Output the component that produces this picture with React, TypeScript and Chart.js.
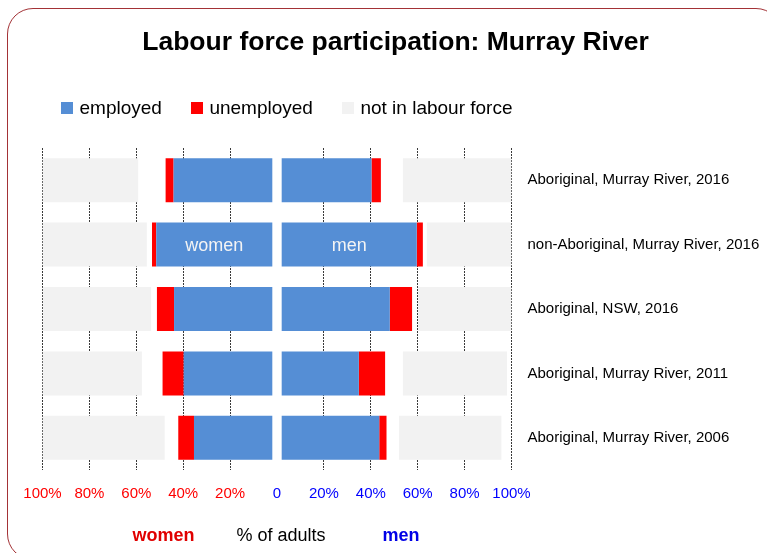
import React, { useEffect, useRef } from "react";
import { Chart, registerables } from "chart.js";

Chart.register(...registerables);

// ---------- data ----------
const categories = [
  "Aboriginal, Murray River, 2016",
  "non-Aboriginal, Murray River, 2016",
  "Aboriginal, NSW, 2016",
  "Aboriginal, Murray River, 2011",
  "Aboriginal, Murray River, 2006",
];

// small blank series that separates the women and men halves in the middle
const centreGap = [2, 2, 2, 2, 2];

const womenEmployed = [42.1, 49.5, 41.9, 37.8, 33.4];
const womenUnemployed = [3.4, 1.8, 7.3, 9.0, 6.7];
const womenNotStated = [11.7, 2.2, 2.5, 8.8, 5.8];
const womenNotInLabourForce = [40.8, 44.5, 46.2, 42.4, 52.1];

const menEmployed = [38.3, 57.6, 46.1, 32.9, 41.6];
const menUnemployed = [4.0, 2.6, 9.5, 11.2, 3.1];
const menNotStated = [9.4, 1.7, 2.6, 7.6, 5.3];
const menNotInLabourForce = [46.3, 36.1, 39.8, 44.4, 43.7];

const axisMin = -100;
const axisMax = 100;
const axisStep = 20;

const seriesNames = ["employed", "unemployed", "not in labour force"];
const innerLabels = { women: "women", men: "men" };
const innerLabelRow = 1;

const COLORS = {
  employed: "#558ed5",
  unemployed: "#ff0000",
  nilf: "#f2f2f2",
  gap: "rgba(0,0,0,0)",
};

const FONT = '"Liberation Sans", Arial, Helvetica, sans-serif';

export default function App() {
  const ref = useRef<HTMLCanvasElement | null>(null);

  useEffect(() => {
    if (!ref.current) return;
    Chart.defaults.font.family = FONT;

    const neg = (a: number[]) => a.map((v) => -v);
    const mk = (label: string, data: number[], color: string) => ({
      label,
      data,
      backgroundColor: color,
      borderWidth: 0,
      barPercentage: 0.683,
      categoryPercentage: 1,
      stack: "rows",
    });

    const datasets = [
      mk("women gap", neg(centreGap), COLORS.gap),
      mk("women employed", neg(womenEmployed), COLORS.employed),
      mk("women unemployed", neg(womenUnemployed), COLORS.unemployed),
      mk("women not stated", neg(womenNotStated), COLORS.gap),
      mk("women not in labour force", neg(womenNotInLabourForce), COLORS.nilf),
      mk("men gap", centreGap, COLORS.gap),
      mk("men employed", menEmployed, COLORS.employed),
      mk("men unemployed", menUnemployed, COLORS.unemployed),
      mk("men not stated", menNotStated, COLORS.gap),
      mk("men not in labour force", menNotInLabourForce, COLORS.nilf),
    ];

    const innerLabelPlugin = {
      id: "innerLabels",
      afterDatasetsDraw(chart: any) {
        const c = chart.ctx;
        const pairs: [number, string][] = [
          [1, innerLabels.women],
          [6, innerLabels.men],
        ];
        c.save();
        c.font = `18px ${FONT}`;
        c.fillStyle = "#f4f4f4";
        c.textAlign = "center";
        c.textBaseline = "middle";
        for (const [dsIndex, text] of pairs) {
          const el = chart.getDatasetMeta(dsIndex).data[innerLabelRow];
          if (!el) continue;
          const p = el.getProps(["x", "base", "y"], true);
          c.fillText(text, (p.x + p.base) / 2, p.y + 1);
        }
        c.restore();
      },
    };

    const chart = new Chart(ref.current, {
      type: "bar",
      data: { labels: categories, datasets: datasets as any },
      plugins: [innerLabelPlugin],
      options: {
        indexAxis: "y",
        animation: false,
        responsive: false,
        devicePixelRatio: 1,
        layout: { padding: { left: 42.5, right: 0, top: 148, bottom: 0 } },
        plugins: {
          legend: { display: false },
          title: { display: false },
          tooltip: { enabled: false },
        },
        scales: {
          x: {
            type: "linear",
            stacked: true,
            min: axisMin,
            max: axisMax,
            ticks: {
              stepSize: axisStep,
              padding: 15,
              font: { size: 15, family: FONT },
              color: (ctx: any) => (ctx.tick && ctx.tick.value < 0 ? "#ff0000" : "#0000ff"),
              callback: (v: any) => (Number(v) === 0 ? "0" : Math.abs(Number(v)) + "%"),
            },
            grid: {
              drawTicks: false,
              lineWidth: 1,
              color: (ctx: any) =>
                ctx.tick && ctx.tick.value === 0 ? "rgba(0,0,0,0)" : "#3a3a3a",
            },
            border: { display: false, dash: [2, 1] },
            afterFit: (scale: any) => {
              scale.height = 83;
            },
          },
          y: {
            type: "category",
            stacked: true,
            position: "right",
            ticks: {
              padding: 16,
              font: { size: 15, family: FONT },
              color: "#000000",
            },
            grid: { display: false, drawTicks: false },
            border: { display: false },
            afterFit: (scale: any) => {
              scale.width = 255.5;
            },
          },
        },
      } as any,
    });

    return () => chart.destroy();
  }, []);

  const legendColors = [COLORS.employed, COLORS.unemployed, COLORS.nilf];

  return (
    <div
      style={{
        position: "absolute",
        left: 0,
        top: 0,
        width: 767,
        height: 553,
        overflow: "hidden",
        background: "#ffffff",
        fontFamily: FONT,
      }}
    >
      <div
        style={{
          position: "absolute",
          left: 7,
          top: 8,
          width: 775,
          height: 552,
          border: "1px solid #a33236",
          borderRadius: 26,
          boxSizing: "border-box",
        }}
      />
      <canvas
        ref={ref}
        width={767}
        height={553}
        style={{ position: "absolute", left: 0, top: 0, width: 767, height: 553 }}
      />
      <div
        style={{
          position: "absolute",
          left: 395.5,
          top: 27.6,
          transform: "translateX(-50%)",
          whiteSpace: "nowrap",
          fontWeight: "bold",
          fontSize: 26.5,
          lineHeight: "26.5px",
          color: "#000",
        }}
      >
        Labour force participation: Murray River
      </div>
      <div
        style={{
          position: "absolute",
          left: 61,
          top: 98.2,
          height: 19,
          display: "flex",
          alignItems: "center",
          gap: 29,
          fontSize: 19,
          lineHeight: "19px",
          color: "#000",
          whiteSpace: "nowrap",
        }}
      >
        {seriesNames.map((name, i) => (
          <div key={name} style={{ display: "flex", alignItems: "center" }}>
            <span
              style={{
                display: "inline-block",
                width: 12,
                height: 12,
                background: legendColors[i],
                marginRight: 6.5,
              }}
            />
            <span>{name}</span>
          </div>
        ))}
      </div>
      {[
        { text: "women", x: 163.5, bold: true, color: "#e00000" },
        { text: "% of adults", x: 281, bold: false, color: "#000000" },
        { text: "men", x: 401, bold: true, color: "#0000e6" },
      ].map((c) => (
        <div
          key={c.text}
          style={{
            position: "absolute",
            left: c.x,
            top: 525.8,
            transform: "translateX(-50%)",
            whiteSpace: "nowrap",
            fontSize: 18,
            lineHeight: "18px",
            fontWeight: c.bold ? "bold" : "normal",
            color: c.color,
          }}
        >
          {c.text}
        </div>
      ))}
    </div>
  );
}
